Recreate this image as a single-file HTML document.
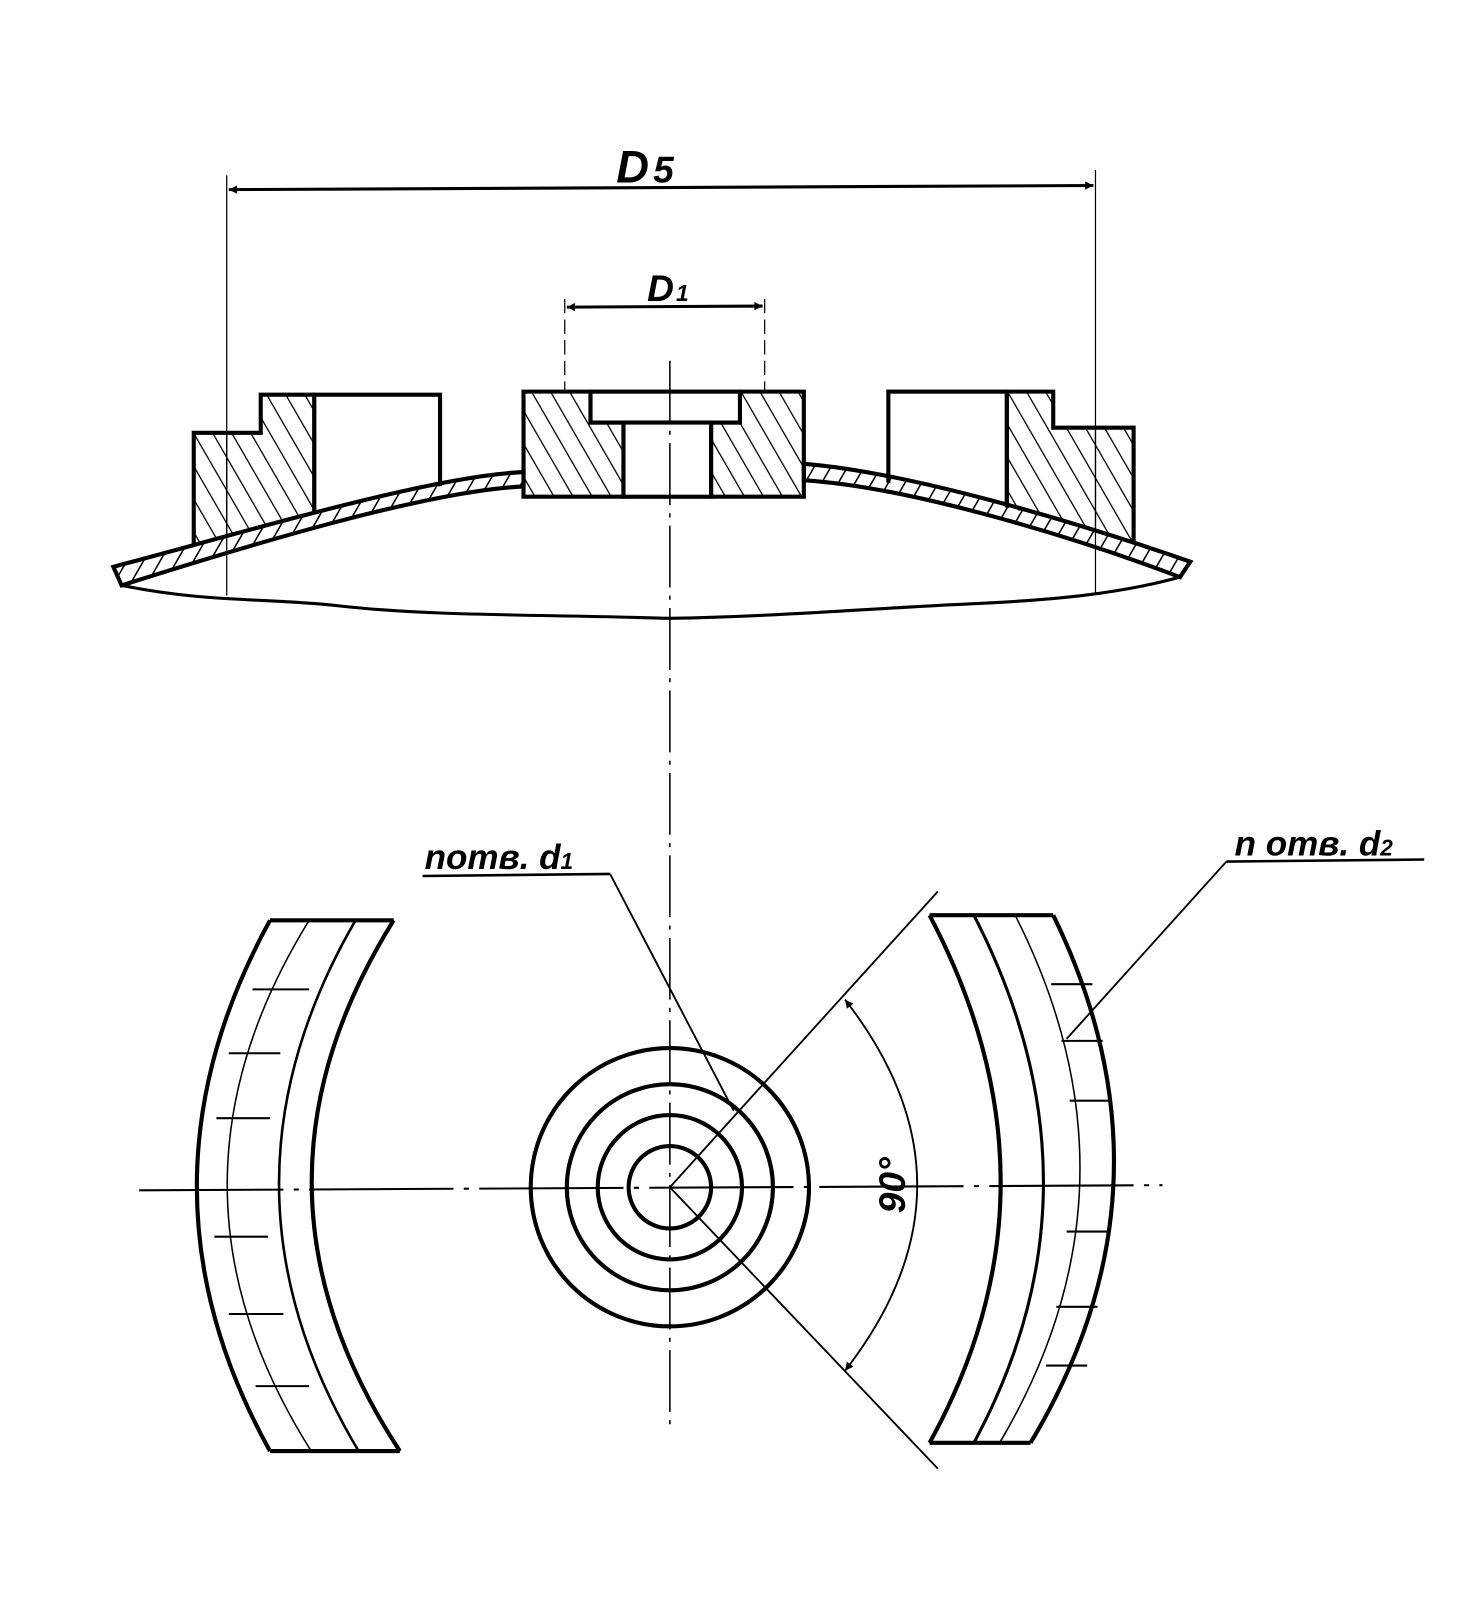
<!DOCTYPE html>
<html><head><meta charset="utf-8"><style>
html,body{margin:0;padding:0;background:#fff;}
svg{display:block;}
text{font-family:"Liberation Sans",sans-serif;font-style:italic;font-weight:bold;fill:#000;}
</style></head><body>
<svg width="1484" height="1617" viewBox="0 0 1440 1569" preserveAspectRatio="none" xmlns="http://www.w3.org/2000/svg">
<defs>
<pattern id="h" patternUnits="userSpaceOnUse" width="16" height="16" patternTransform="rotate(-30)">
<line x1="0" y1="0" x2="0" y2="16" stroke="#000" stroke-width="2.5"/>
</pattern>
<pattern id="s" patternUnits="userSpaceOnUse" width="14" height="14" patternTransform="rotate(30)">
<line x1="0" y1="0" x2="0" y2="14" stroke="#000" stroke-width="3"/>
</pattern>
<marker id="a" viewBox="0 0 10 10" refX="10" refY="5" markerWidth="14" markerHeight="8" orient="auto-start-reverse" markerUnits="userSpaceOnUse">
<path d="M0,0 L10,5 L0,10 z" fill="#000"/>
</marker>
</defs>

<!-- dimensions -->
<line x1="220" y1="170" x2="220" y2="578" stroke="#000" stroke-width="1.2"/>
<line x1="1063" y1="165" x2="1063" y2="575" stroke="#000" stroke-width="1.2"/>
<line x1="222" y1="184" x2="1061" y2="180" stroke="#000" stroke-width="3" marker-start="url(#a)" marker-end="url(#a)"/>
<text x="598" y="177" font-size="44">D<tspan font-size="36" dx="4">5</tspan></text>
<line x1="548" y1="290" x2="548" y2="380" stroke="#000" stroke-width="1.2" stroke-dasharray="14,6"/>
<line x1="742" y1="290" x2="742" y2="380" stroke="#000" stroke-width="1.2" stroke-dasharray="14,6"/>
<line x1="550" y1="298" x2="740" y2="297" stroke="#000" stroke-width="3" marker-start="url(#a)" marker-end="url(#a)"/>
<text x="628" y="292" font-size="36">D<tspan font-size="22" dx="2">1</tspan></text>

<!-- side blocks -->
<g stroke="#000" stroke-width="4">
<polygon points="188,420 253,420 253,383 305,383 305,600 188,600" fill="url(#h)"/>
<rect x="305" y="383" width="122" height="217" fill="#fff"/>
<rect x="862" y="380" width="115" height="220" fill="#fff"/>
<polygon points="977,380 1022,380 1022,415 1100,415 1100,600 977,600" fill="url(#h)"/>
</g>
<!-- white cover below shell top -->
<path d="M110,550 C260,510 450,452 650,446 C850,452 1040,505 1155,545 L1170,640 L100,640 Z" fill="#fff"/>
<!-- shell -->
<path d="M110,550 C260,510 420,462 508,458 L508,472 C420,476 260,523 118,568 Z" fill="url(#s)" stroke="#000" stroke-width="4"/>
<path d="M780,450 C880,458 1040,505 1155,545 L1145,560 C1040,520 880,472 780,466 Z" fill="url(#s)" stroke="#000" stroke-width="4"/>
<!-- hub -->
<g stroke="#000" stroke-width="4">
<polygon points="508,380 573,380 573,410 605,410 605,482 508,482" fill="url(#h)"/>
<polygon points="718,380 780,380 780,482 690,482 690,410 718,410" fill="url(#h)"/>
<rect x="573" y="380" width="145" height="30" fill="#fff"/>
<rect x="605" y="410" width="85" height="72" fill="#fff"/>
</g>
<path d="M118,568 C200,585 260,580 330,588 C420,598 520,596 650,600 C760,598 850,590 940,586 C1030,582 1090,575 1145,560" fill="none" stroke="#000" stroke-width="3"/>
<line x1="220" y1="420" x2="220" y2="578" stroke="#000" stroke-width="1.2"/>
<line x1="1063" y1="415" x2="1063" y2="575" stroke="#000" stroke-width="1.2"/>

<!-- center lines -->
<line x1="650" y1="350" x2="650" y2="1385" stroke="#000" stroke-width="1.5" stroke-dasharray="60,8,4,8"/>
<line x1="135" y1="1155" x2="1128" y2="1150" stroke="#000" stroke-width="2" stroke-dasharray="140,10,5,10"/>

<!-- circles -->
<g fill="none" stroke="#000" stroke-width="4">
<circle cx="650" cy="1152" r="135"/>
<circle cx="650" cy="1152" r="100"/>
<circle cx="650" cy="1152" r="70"/>
<circle cx="650" cy="1152" r="40"/>
</g>

<!-- left segment -->
<g fill="none" stroke="#000">
<path d="M262,893 L382,893" stroke-width="4"/>
<path d="M262,1408 L388,1408" stroke-width="4"/>
<path d="M262,893 Q120,1152 262,1408" stroke-width="4"/>
<path d="M382,893 Q220,1152 388,1408" stroke-width="4"/>
<path d="M300,893 Q140,1152 302,1408" stroke-width="1.5"/>
<path d="M345,893 Q195,1152 348,1408" stroke-width="2.5"/>
</g>
<g stroke="#000" stroke-width="2">
<line x1="245" y1="960" x2="300" y2="960"/>
<line x1="222" y1="1022" x2="272" y2="1022"/>
<line x1="210" y1="1085" x2="262" y2="1085"/>
<line x1="208" y1="1200" x2="260" y2="1200"/>
<line x1="222" y1="1275" x2="275" y2="1275"/>
<line x1="248" y1="1345" x2="300" y2="1345"/>
</g>

<!-- right segment -->
<g fill="none" stroke="#000">
<path d="M902,888 L1022,888" stroke-width="4"/>
<path d="M902,1400 L1000,1400" stroke-width="4"/>
<path d="M1022,888 Q1150,1150 1000,1400" stroke-width="4"/>
<path d="M902,888 Q1040,1150 902,1400" stroke-width="4"/>
<path d="M945,888 Q1080,1150 945,1400" stroke-width="3"/>
<path d="M985,888 Q1118,1150 970,1400" stroke-width="1.5"/>
</g>
<g stroke="#000" stroke-width="2">
<line x1="1020" y1="955" x2="1060" y2="955"/>
<line x1="1030" y1="1010" x2="1070" y2="1010"/>
<line x1="1038" y1="1068" x2="1078" y2="1068"/>
<line x1="1035" y1="1195" x2="1075" y2="1195"/>
<line x1="1025" y1="1268" x2="1065" y2="1268"/>
<line x1="1015" y1="1325" x2="1055" y2="1325"/>
</g>

<!-- angle -->
<line x1="650" y1="1152" x2="910" y2="865" stroke="#000" stroke-width="1.8"/>
<line x1="650" y1="1152" x2="910" y2="1425" stroke="#000" stroke-width="1.8"/>
<path d="M820,970 Q960,1150 820,1330" fill="none" stroke="#000" stroke-width="1.8" marker-start="url(#a)" marker-end="url(#a)"/>
<text transform="translate(878,1150) rotate(-90)" x="0" y="0" font-size="36" text-anchor="middle">90°</text>

<!-- leaders -->
<line x1="410" y1="850" x2="592" y2="848" stroke="#000" stroke-width="2.5"/>
<line x1="592" y1="848" x2="712" y2="1078" stroke="#000" stroke-width="1.8"/>
<text x="412" y="843" font-size="34">nomв. d<tspan font-size="22">1</tspan></text>
<line x1="1190" y1="836" x2="1382" y2="834" stroke="#000" stroke-width="2.5"/>
<line x1="1190" y1="836" x2="1035" y2="1008" stroke="#000" stroke-width="1.8"/>
<text x="1198" y="830" font-size="34">n omв. d<tspan font-size="22">2</tspan></text>
</svg>
</body></html>
